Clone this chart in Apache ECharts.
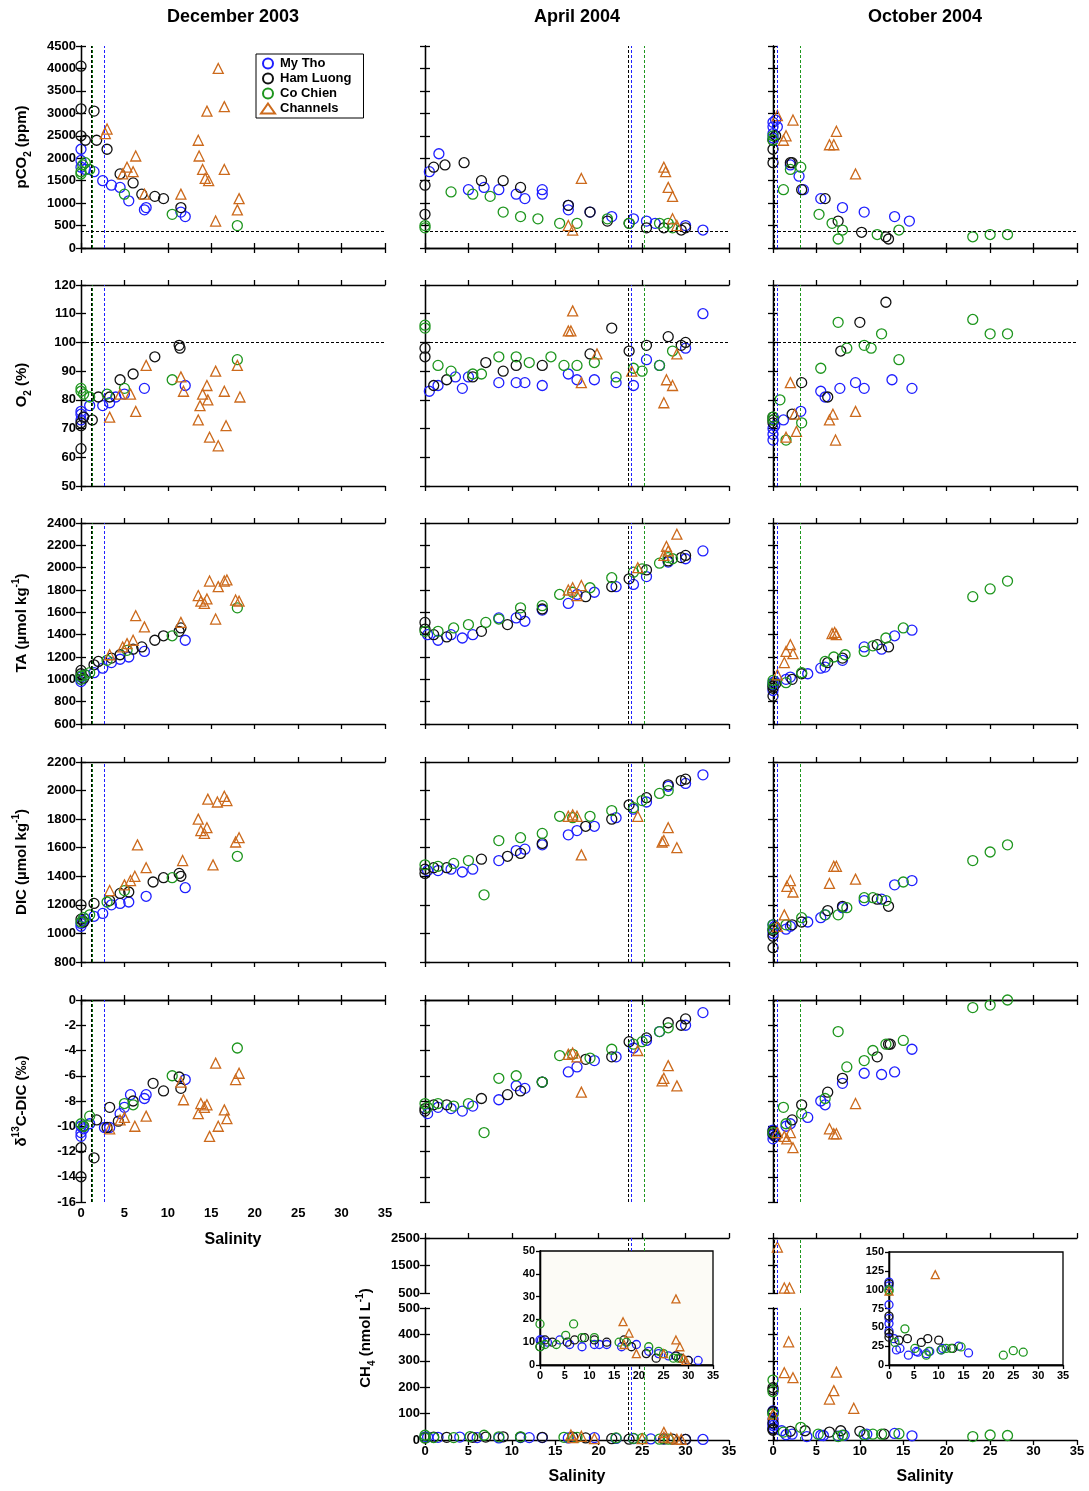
<!DOCTYPE html>
<html>
<head>
<meta charset="utf-8"/>
<script src="https://cdn.jsdelivr.net/npm/echarts@6/dist/echarts.min.js"></script>
<style>
  body,html{margin:0;width:100%;height:100%;background:#fff;}
  #main{width:1089px;height:1491px;}
</style>
</head>
<body>
<div id="main"></div>
<script>
// ---- data : [salinity, value] ----
var pco2Dec = {
  myTho:[[0,1950],[0,2200],[0,1800],[0.5,1750],[1.5,1700],[2.5,1500],[3.5,1400],[4.5,1350],[5.5,1050],[7.5,900],[7.3,850],[11.5,800],[12,700]],
  hamLuong:[[0,4050],[0,3100],[0,2500],[0.5,2400],[1.5,3050],[1.8,2400],[3,2200],[4.5,1650],[6,1450],[7,1200],[8.5,1150],[9.5,1100],[11.5,900]],
  coChien:[[0,1700],[0.2,1850],[0,1650],[0.5,1900],[1,1750],[5,1200],[10.5,750],[18,500]],
  channels:[[3,2650],[2.8,2550],[4.8,1650],[5.3,1800],[6,1700],[6.3,2050],[7.3,1200],[11.5,1200],[13.5,2400],[13.6,2050],[14,1750],[14.3,1550],[14.7,1500],[14.5,3050],[15.5,600],[15.8,4000],[16.5,3150],[16.5,1750],[18,850],[18.2,1100]]
};
var pco2Apr = {
  myTho:[[0.5,1700],[1.6,2100],[5,1300],[6.8,1350],[8.5,1300],[10.5,1200],[11.5,1100],[13.5,1300],[13.5,1200],[16.5,950],[16.5,850],[19,800],[21.5,700],[24,650],[25.5,600],[26.5,550],[30,500],[32,400]],
  hamLuong:[[0,1400],[0,750],[1,1800],[2.3,1850],[4.5,1900],[6.5,1500],[9,1500],[11,1350],[16.5,950],[19,800],[21,600],[23.5,550],[25.5,450],[27.5,450],[29.5,400],[30,450]],
  coChien:[[0,500],[0,450],[3,1250],[5.5,1200],[7.5,1150],[9,800],[11,700],[13,650],[15.5,550],[17.5,550],[21,650],[23.5,550],[27,550],[28,550],[28.5,450]],
  channels:[[16.5,500],[17,400],[18,1550],[27.5,1800],[27.7,1700],[28,1350],[28.5,1150],[28.5,650],[29,500]]
};
var pco2Oct = {
  myTho:[[0,2800],[0,2700],[0,2550],[0,2450],[0.3,2850],[0.5,2700],[2,1850],[3,1600],[3.5,1300],[5.5,1100],[8,900],[10.5,800],[14,700],[15.7,600]],
  hamLuong:[[0,1900],[0,2200],[0,2400],[0.3,2500],[2,1900],[2.2,1900],[3.3,1300],[6,1100],[7.5,600],[10.2,350],[13,250],[13.3,200]],
  coChien:[[0,2500],[0,2400],[2,1750],[1.2,1300],[3.2,1800],[5.3,750],[6.8,550],[7.5,200],[8,400],[12,300],[14.5,400],[23,250],[25,300],[27,300]],
  channels:[[0.5,2950],[1.5,2500],[1.2,2400],[2.3,2850],[6.5,2300],[7,2300],[7.3,2600],[9.5,1650]]
};
var o2Dec = {
  myTho:[[0,76],[0,75],[0,73],[0.3,74],[1,78],[2.5,78],[3.3,79],[4,81],[5,82],[7.3,84],[12,85]],
  hamLuong:[[0,72],[0,71],[0,63],[0.3,74],[1.3,73],[2,81],[3.3,81],[4.5,87],[6,89],[8.5,95],[11.3,99],[11.4,98]],
  coChien:[[0,84],[0,83],[0.3,82],[1,81],[3,82],[5,84],[10.5,87],[18,94]],
  channels:[[3.3,74],[4.5,82],[5.7,82],[6.3,76],[7.5,92],[11.5,88],[11.8,83],[13.5,73],[13.7,78],[14,82],[14.5,85],[14.6,80],[14.8,67],[15.5,90],[15.8,64],[16.5,83],[16.7,71],[18,92],[18.3,81]]
};
var o2Apr = {
  myTho:[[0.5,83],[1.5,85],[3.5,88],[4.3,84],[5,88],[8.5,86],[10.5,86],[11.5,86],[13.5,85],[16.5,89],[17.5,87],[19.5,87],[22,86],[24,85],[25.5,94],[27,92],[30,98],[32,110]],
  hamLuong:[[0,98],[0,95],[1,85],[2.5,87],[5.5,88],[7,93],[9,90],[10.5,92],[13.5,92],[19,96],[21.5,105],[23.5,97],[25.5,99],[28,102],[29.5,99],[30,100]],
  coChien:[[0,106],[0,105],[1.5,92],[3,90],[5.5,89],[6.5,89],[8.5,95],[10.5,95],[12,93],[14.5,95],[16,92],[17.5,92],[19.5,93],[22,88],[24,91],[25,90],[27,92],[28.5,97]],
  channels:[[16.5,104],[16.8,104],[17,111],[18,86],[19.8,96],[23.8,90],[27.5,79],[27.8,87],[28.5,85],[29,96]]
};
var o2Oct = {
  myTho:[[0,70],[0,68],[0,66],[0.2,71],[1.2,73],[3.2,76],[5.5,83],[6,81],[7.7,84],[9.5,86],[10.5,84],[13.7,87],[16,84]],
  hamLuong:[[0,74],[0,73],[0,72],[2.2,75],[3.3,86],[6.3,81],[7.8,97],[10,107],[13,114]],
  coChien:[[0,74],[0,73],[0.8,80],[1.5,66],[3.3,72],[5.5,91],[7.5,107],[8.5,98],[10.5,99],[11.3,98],[12.5,103],[14.5,94],[23,108],[25,103],[27,103]],
  channels:[[1.5,67],[2,86],[2.5,75],[2.7,69],[6.5,73],[6.9,75],[7.2,66],[9.5,76]]
};
var taDec = {
  myTho:[[0,980],[0,1000],[0,1020],[0.5,1040],[1.5,1060],[2.5,1100],[3.5,1150],[4.5,1180],[5.5,1200],[7.3,1250],[12,1350]],
  hamLuong:[[0,1080],[0,1050],[0.3,1010],[1.5,1130],[2,1160],[3.5,1190],[4.5,1220],[6,1270],[7,1290],[8.5,1350],[9.5,1390],[11.3,1430],[11.5,1460]],
  coChien:[[0,1000],[0,1030],[0.5,1040],[1,1060],[3,1170],[5.3,1260],[10.5,1390],[18,1640]],
  channels:[[3.3,1220],[4.8,1290],[5.3,1320],[6,1350],[6.3,1570],[7.3,1470],[11.5,1510],[13.5,1750],[13.8,1700],[14.2,1680],[14.5,1720],[14.8,1880],[15.5,1540],[15.8,1830],[16.5,1880],[16.8,1890],[17.8,1710],[18.2,1700]]
};
var taApr = {
  myTho:[[0.3,1400],[1.5,1350],[3,1400],[4.3,1370],[5.5,1400],[8.5,1550],[10.5,1550],[11.5,1520],[13.5,1620],[16.5,1680],[17.5,1760],[19.5,1780],[22,1830],[24,1850],[25.5,1920],[28,2050],[30,2080],[32,2150]],
  hamLuong:[[0,1510],[0,1450],[1,1400],[2.5,1380],[6.5,1430],[9.5,1490],[11,1580],[13.5,1630],[18.5,1740],[21.5,1830],[23.5,1900],[25.5,1980],[28,2060],[29.5,2090],[30,2110]],
  coChien:[[0,1430],[1.5,1430],[3.3,1460],[5,1490],[7,1510],[8.5,1540],[11,1640],[13.5,1660],[15.5,1760],[17,1780],[19,1820],[21.5,1910],[24,1960],[25,1990],[27,2040],[28,2090],[28.5,2080]],
  channels:[[16.5,1800],[17,1820],[17.5,1750],[18,1840],[24.5,2000],[27.5,2110],[27.8,2190],[28,2150],[29,2300]]
};
var taOct = {
  myTho:[[0,900],[0,950],[0,970],[0.2,980],[1.5,1000],[2,1020],[4,1050],[5.5,1100],[6,1110],[8,1170],[10.5,1290],[12.5,1270],[14,1390],[16,1440]],
  hamLuong:[[0,850],[0,920],[0,940],[0.3,960],[2.2,1000],[3.3,1050],[6.3,1150],[8,1190],[12,1310],[13.3,1290]],
  coChien:[[0,960],[0,990],[1.5,970],[3.3,1060],[6,1160],[7,1200],[8.3,1220],[10.5,1250],[11.5,1300],[13,1370],[15,1460],[23,1740],[25,1810],[27,1880]],
  channels:[[0.5,1040],[1.3,1150],[1.5,1250],[2,1310],[2.3,1230],[6.8,1410],[7.1,1420],[7.3,1400]]
};
var dicDec = {
  myTho:[[0,1050],[0,1070],[0.2,1090],[0.5,1100],[1.5,1120],[2.5,1140],[3.5,1200],[4.5,1210],[5.5,1220],[7.5,1260],[12,1320]],
  hamLuong:[[0,1200],[0,1100],[0.3,1080],[1.5,1210],[3.3,1230],[4.5,1280],[5.5,1290],[8.3,1360],[9.5,1390],[11.3,1420],[11.5,1400]],
  coChien:[[0,1080],[0.3,1110],[1,1130],[3,1220],[5,1300],[10.5,1390],[18,1540]],
  channels:[[3.3,1300],[5,1340],[5.7,1370],[6.2,1400],[6.5,1620],[7.5,1460],[11.7,1510],[13.5,1800],[13.8,1720],[14.2,1700],[14.5,1740],[14.6,1940],[15.2,1480],[15.7,1920],[16.5,1960],[16.8,1930],[17.8,1640],[18.2,1670]]
};
var dicApr = {
  myTho:[[0.3,1440],[1.5,1440],[3,1450],[4.3,1430],[5.5,1450],[8.5,1510],[10.5,1580],[11.5,1590],[13.5,1620],[16.5,1690],[17.5,1720],[19.5,1750],[22,1810],[24,1870],[25.5,1920],[28,2030],[30,2050],[32,2110]],
  hamLuong:[[0,1420],[0,1450],[1,1460],[2.5,1460],[6.5,1520],[9.5,1540],[11,1560],[13.5,1630],[18.5,1750],[21.5,1800],[23.5,1900],[25.5,1950],[28,2040],[29.5,2070],[30,2080]],
  coChien:[[0,1480],[1.5,1470],[3.3,1490],[5,1510],[6.8,1270],[8.5,1650],[11,1670],[13.5,1700],[15.5,1820],[17,1810],[19,1820],[21.5,1860],[24,1880],[25,1930],[27,1980],[28,2000]],
  channels:[[16.5,1820],[17,1830],[17.5,1820],[18,1550],[24.5,1820],[27.3,1640],[27.5,1650],[28,1740],[29,1600]]
};
var dicOct = {
  myTho:[[0,1000],[0,1030],[0,1060],[0.2,1050],[1.5,1030],[2,1050],[4,1080],[5.5,1110],[6,1130],[8,1180],[10.5,1230],[12.5,1240],[14,1340],[16,1370]],
  hamLuong:[[0,900],[0,980],[0,1020],[0.3,1040],[2.2,1060],[3.3,1080],[6.3,1160],[8,1190],[12,1240],[13.3,1190]],
  coChien:[[0,1030],[0,1060],[1.5,1060],[3.3,1110],[6,1130],[7.5,1130],[8.5,1180],[10.5,1250],[11.5,1250],[13,1230],[15,1360],[23,1510],[25,1570],[27,1620]],
  channels:[[0.5,1050],[1.3,1130],[1.6,1330],[2,1370],[2.3,1290],[6.5,1350],[7,1470],[7.3,1470],[9.5,1380]]
};
var d13Dec = {
  myTho:[[0,-10.8],[0,-10.5],[0,-10],[0.3,-10.2],[1,-9.8],[2.7,-10.1],[3.3,-10.1],[4.5,-9],[5,-8.5],[5.7,-7.5],[7.3,-7.8],[7.5,-7.5],[12,-6.3]],
  hamLuong:[[0,-14],[0,-11.7],[0.3,-10],[1.5,-12.5],[1.8,-9.5],[3,-10.1],[3.3,-8.5],[4.3,-9.6],[6,-8],[8.3,-6.6],[9.5,-7.2],[11.3,-6.1],[11.5,-7]],
  coChien:[[0,-9.8],[0.3,-10],[1,-9.2],[5,-8.2],[6,-8.3],[10.5,-6],[18,-3.8]],
  channels:[[3.3,-10.2],[4.5,-9.5],[5,-9.3],[6.2,-10],[7.5,-9.2],[11.5,-6.5],[11.8,-7.9],[13.5,-9],[13.8,-8.2],[14.2,-8.5],[14.5,-8.3],[14.8,-10.8],[15.5,-5],[15.8,-10],[16.5,-8.7],[16.8,-9.4],[17.8,-6.3],[18.2,-5.8]]
};
var d13Apr = {
  myTho:[[0.3,-9],[1.5,-8.5],[3,-8.6],[4.3,-8.8],[5.5,-8.4],[8.5,-7.9],[10.5,-6.8],[11.5,-7],[13.5,-6.5],[16.5,-5.7],[17.5,-5.3],[19.5,-4.8],[22,-4.5],[24,-3.8],[25.5,-3.2],[27,-2.5],[30,-2],[32,-1]],
  hamLuong:[[0,-8.6],[0,-8.8],[1,-8.3],[2.5,-8.3],[6.5,-7.8],[9.5,-7.5],[11,-7.2],[13.5,-6.5],[18.5,-4.7],[21.5,-4.5],[23.5,-3.3],[25.5,-3],[28,-1.8],[29.5,-2],[30,-1.5]],
  coChien:[[0,-8.2],[0.3,-8.5],[1.5,-8.2],[3.3,-8.4],[5,-8.2],[6.8,-10.5],[8.5,-6.2],[10.5,-6],[13.5,-6.5],[15.5,-4.4],[17,-4.3],[19,-4.6],[21.5,-3.9],[24,-3.5],[25,-3.3],[27,-2.5],[28,-2.2]],
  channels:[[16.5,-4.3],[17,-4.2],[17.5,-4.5],[18,-7.3],[24.5,-4],[27.3,-6.4],[27.5,-6.2],[28,-5.2],[29,-6.8]]
};
var d13Oct = {
  myTho:[[0,-11],[0,-10.7],[0,-10.3],[0.2,-10.8],[1.5,-10],[2,-9.8],[4,-9.3],[5.5,-8],[6,-8.3],[8,-6.6],[10.5,-5.8],[12.5,-5.9],[14,-5.7],[16,-3.9]],
  hamLuong:[[0,-10.4],[0,-10.6],[0.3,-10.8],[2.2,-9.5],[3.3,-8.3],[6.3,-7.3],[8,-6.2],[12,-4.5],[13.3,-3.5],[13.5,-3.5]],
  coChien:[[0,-10.5],[1.2,-8.5],[1.5,-9.8],[3.3,-9],[6,-7.8],[7.5,-2.5],[8.5,-5.3],[10.5,-4.8],[11.5,-4],[13,-3.5],[15,-3.2],[23,-0.6],[25,-0.4],[27,0]],
  channels:[[0.5,-10.5],[1.3,-10.8],[1.6,-11],[2,-10.5],[2.3,-11.7],[6.5,-10.2],[7,-10.6],[7.3,-10.6],[9.5,-8.2]]
};
var ch4Apr = {
  myTho:[[0,11],[0.3,11],[1.5,10],[4,11],[6,9],[8.5,8],[11,9],[12,9],[13.5,9],[16.5,8],[19.5,9],[22,6],[24,5],[26,4],[27.5,4],[30,2],[32,2]],
  hamLuong:[[0,8],[1,11],[2.5,10],[5.5,10],[7,11],[9,12],[11,11],[13.5,10],[17,11],[18.5,8],[21.5,5],[23.5,3],[27.5,4],[28.5,3],[30,2]],
  coChien:[[0,18],[0,8],[1,9],[3.3,9],[5.2,13],[6.8,18],[8.5,12],[11,12],[16,10],[17.5,10],[22,8],[24,6],[25,5],[27,3],[28,3]],
  channels:[[16.8,19],[17,9],[18,14],[19.5,5],[25,5],[27.5,29],[27.5,11],[28.3,8],[29,3],[29.5,2]]
};
var ch4Oct = {
  myTho:[[0,110],[0,105],[0,80],[0,62],[0,55],[0,45],[1,35],[1.5,20],[2.2,22],[3.9,13],[5.5,18],[5.8,17],[7.5,15],[8.2,18],[10.5,20],[10.8,22],[14,25],[16,16]],
  hamLuong:[[0,198],[0,190],[0,108],[0,65],[0,42],[0,37],[2,33],[3.7,35],[6.5,30],[7.8,35],[10,33],[12.8,22]],
  coChien:[[0,227],[0,183],[0,100],[0,98],[1.2,30],[3.2,48],[5.2,22],[7.5,13],[8,18],[10.5,20],[11.5,22],[12.5,22],[14.5,24],[23,13],[25,19],[27,17]],
  channels:[[0,98],[0.5,2170],[1.3,680],[1.9,680],[1.8,372],[1.3,255],[2.3,236],[7.3,257],[7,187],[6.5,155],[9.3,120]]
};
// reference lines
var vlinesDec = [[1.2,'#000'],[1.35,'#0a6e0a'],[2.7,'#1f1fff']];
var vlinesApr = [[23.4,'#000'],[23.8,'#1f1fff'],[25.2,'#1e961e']];
var vlinesOct = [[0.15,'#000'],[0.5,'#1f1fff'],[3.1,'#1e961e']];
var pco2Atm = 370, o2Sat = 100;

var names = ['My Tho','Ham Luong','Co Chien','Channels'];
var keys = ['myTho','hamLuong','coChien','channels'];
var colors = ['#1f1fff','#111111','#1e961e','#cc6a1c'];
var font = 'Liberation Sans, Arial, sans-serif';

var grids=[], xAxes=[], yAxes=[], series=[], graphics=[];
var colX = [81,425,773], W = 304;

function panel(g, o) {
  var gi = grids.length;
  grids.push({left:g.left, top:g.top, width:g.width, height:g.height,
    show: !!o.bg, backgroundColor:o.bg || 'transparent', borderColor:'#000', borderWidth:o.bg ? 1.3 : 0, z:o.z||0});
  var fs = o.fs || 13;
  var line = {show:true, lineStyle:{color:'#000', width:1.3}};
  var tick = {show:true, inside:false, length:o.tl||5, lineStyle:{color:'#000', width:1.3}};
  var lab = {show:true, color:'#000', fontWeight:'bold', fontSize:fs, fontFamily:font, margin:5,
    formatter:function (v) { return String(v); }};
  var xi = xAxes.length;
  xAxes.push({gridIndex:gi, type:'value', position:'bottom', min:0, max:35, interval:5,
    axisLine: o.hideBottom ? {show:false} : line, axisTick: o.hideBottom ? {show:false} : tick,
    axisLabel: o.xLabels ? lab : {show:false}, splitLine:{show:false}, z:o.z||0});
  xAxes.push({gridIndex:gi, type:'value', position:'top', min:0, max:35, interval:5,
    show: !o.hideTop, axisLine: line, axisTick: o.inset ? {show:false} : tick,
    axisLabel:{show:false}, splitLine:{show:false}, z:o.z||0});
  var yi = yAxes.length;
  yAxes.push({gridIndex:gi, type:'value', position:'left', min:o.min, max:o.max, interval:o.int,
    axisLine: line, axisTick: tick, axisLabel: o.yLabels ? lab : {show:false}, splitLine:{show:false}, z:o.z||0});
  yAxes.push({gridIndex:gi, type:'value', position:'right', min:o.min, max:o.max, interval:o.int,
    axisLine: line, axisTick: o.inset ? {show:false} : tick, axisLabel:{show:false}, splitLine:{show:false}, z:o.z||0});
  return {xi:xi, yi:yi};
}

function addData(ax, data, filt, size, z) {
  keys.forEach(function (k, i) {
    var pts = data[k].filter(filt || function(){return true;});
    series.push({
      name: names[i], type:'scatter', xAxisIndex:ax.xi, yAxisIndex:ax.yi, data:pts,
      symbol: k === 'channels' ? 'triangle' : 'circle', symbolSize: size || 10, clip:true, z:z||2,
      itemStyle:{color:'rgba(255,255,255,0)', borderColor:colors[i], borderWidth:1.3, opacity:1}
    });
  });
}

function addLines(ax, vl, hv, ymin, ymax) {
  var md = vl.map(function (v) {
    if (ymin !== undefined) {
      return [{coord:[v[0], ymin], lineStyle:{color:v[1]}}, {coord:[v[0], ymax]}];
    }
    return {xAxis:v[0], lineStyle:{color:v[1]}};
  });
  if (hv !== undefined) md.push({yAxis:hv, lineStyle:{color:'#000'}});
  series.push({type:'scatter', xAxisIndex:ax.xi, yAxisIndex:ax.yi, data:[], z:1,
    markLine:{silent:true, symbol:'none', label:{show:false}, animation:false,
      lineStyle:{type:[3,2], width:1}, data:md}});
}

var rows = [
  {top:46, h:202, min:0, max:4500, int:500, sets:[pco2Dec,pco2Apr,pco2Oct], hv:pco2Atm},
  {top:285, h:201, min:50, max:120, int:10, sets:[o2Dec,o2Apr,o2Oct], hv:o2Sat},
  {top:523, h:201, min:600, max:2400, int:200, sets:[taDec,taApr,taOct]},
  {top:762, h:200, min:800, max:2200, int:200, sets:[dicDec,dicApr,dicOct]},
  {top:1000, h:202, min:-16, max:0, int:2, sets:[d13Dec,d13Apr,d13Oct]}
];
var vls = [vlinesDec, vlinesApr, vlinesOct];

rows.forEach(function (r, ri) {
  for (var c = 0; c < 3; c++) {
    var ax = panel({left:colX[c], top:r.top, width:W, height:r.h},
      {min:r.min, max:r.max, int:r.int, yLabels:c === 0, xLabels:(c === 0 && ri === 4)});
    addLines(ax, vls[c], r.hv);
    addData(ax, r.sets[c]);
  }
});

// CH4 broken axes (April, October)
[1, 2].forEach(function (c) {
  var set = c === 1 ? ch4Apr : ch4Oct;
  var up = panel({left:colX[c], top:1238, width:W, height:55},
    {min:500, max:2500, int:1000, yLabels:c === 1, hideBottom:true});
  var lo = panel({left:colX[c], top:1308, width:W, height:132},
    {min:0, max:500, int:100, yLabels:c === 1, xLabels:true, hideTop:true});
  if (c === 1) {
    addLines(up, vls[c], undefined, 2027, 2500);
    addLines(lo, vls[c], undefined, 0, 284);
  } else {
    addLines(up, vls[c]);
    addLines(lo, vls[c]);
  }
  addData(up, set, function (p) { return p[1] > 500; });
  addData(lo, set, function (p) { return p[1] <= 500; });
});
// insets
var inA = panel({left:540, top:1251, width:173, height:114},
  {min:0, max:50, int:10, yLabels:true, xLabels:true, fs:11, bg:'#fcfbf6', tl:4, inset:true, z:5});
addData(inA, ch4Apr, null, 8, 6);
var inO = panel({left:889, top:1252, width:174, height:113},
  {min:0, max:150, int:25, yLabels:true, xLabels:true, fs:11, bg:'#ffffff', tl:4, inset:true, z:5});
addData(inO, ch4Oct, null, 8, 6);

// titles, axis names
var titles = [['December 2003',233],['April 2004',577],['October 2004',925]];
titles.forEach(function (t) {
  graphics.push({type:'text', x:t[1], y:8, style:{text:t[0], font:'bold 18px ' + font, fill:'#000', textAlign:'center'}});
});
[[233,1232],[577,1469],[925,1469]].forEach(function (p) {
  graphics.push({type:'text', x:p[0], y:p[1], style:{text:'Salinity', font:'bold 16px ' + font, fill:'#000', textAlign:'center'}});
});
var ynames = [
  [22,147,'{m|pCO}{s|2}{m| (ppm)}'],
  [22,385,'{m|O}{s|2}{m| (%)}'],
  [22,623,'{m|TA (µmol kg}{p|-1}{m|)}'],
  [22,862,'{m|DIC (µmol kg}{p|-1}{m|)}'],
  [22,1101,'{m|δ}{p|13}{m|C-DIC (‰)}'],
  [366,1338,'{m|CH}{s|4}{m| (nmol L}{p|-1}{m|)}']
];
ynames.forEach(function (n) {
  graphics.push({type:'text', x:n[0], y:n[1], rotation:Math.PI/2,
    style:{text:n[2], textAlign:'center', textVerticalAlign:'middle',
      rich:{m:{fontSize:15, fontWeight:'bold', fontFamily:font, fill:'#000', lineHeight:22, verticalAlign:'middle'},
            s:{fontSize:10, fontWeight:'bold', fontFamily:font, fill:'#000', lineHeight:22, verticalAlign:'bottom'},
            p:{fontSize:10, fontWeight:'bold', fontFamily:font, fill:'#000', lineHeight:22, verticalAlign:'top'}}}});
});

var chart = echarts.init(document.getElementById('main'));
chart.setOption({
  animation:false,
  backgroundColor:'#fff',
  legend:{data:names, orient:'vertical', left:256, top:54, itemGap:2, itemWidth:14, itemHeight:10,
    padding:[3,12,3,4], borderColor:'#000', borderWidth:1, backgroundColor:'#fff',
    textStyle:{fontWeight:'bold', fontSize:13, fontFamily:font, color:'#000'}},
  grid:grids, xAxis:xAxes, yAxis:yAxes, series:series, graphic:graphics
});
</script>
</body>
</html>
